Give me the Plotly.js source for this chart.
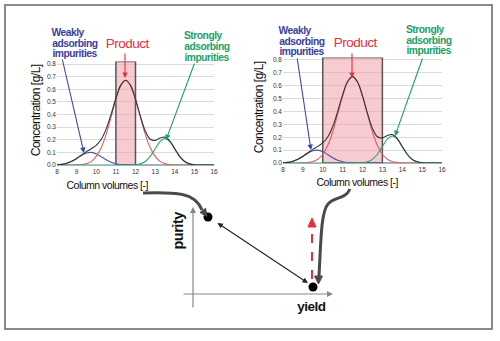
<!DOCTYPE html>
<html><head><meta charset="utf-8">
<script src="https://cdn.plot.ly/plotly-3.0.1.min.js"></script>
<style>html,body{margin:0;padding:0;background:#fff}#c{width:500px;height:341px}#c svg text.annotation-text{letter-spacing:-0.5px}</style>
</head><body><div id="c"></div>
<script>
// ---- data ----
const columnVolumes = [8,8.25,8.5,8.75,9,9.25,9.5,9.75,10,10.25,10.5,10.75,11,11.25,11.5,11.75,12,12.25,12.5,12.75,13,13.25,13.5,13.75,14,14.25,14.5,14.75,15,15.25,15.5,15.75,16];
const weakImpurity = [0.002,0.005,0.014,0.029,0.051,0.076,0.095,0.1,0.088,0.066,0.041,0.022,0.01,0.004,0.001,0,0,0,0,0,0,0,0,0,0,0,0,0,0,0,0,0,0];
const product = [0,0,0,0,0.001,0.004,0.011,0.029,0.068,0.136,0.241,0.377,0.519,0.629,0.67,0.629,0.519,0.377,0.241,0.136,0.068,0.029,0.011,0.004,0.001,0,0,0,0,0,0,0,0];
const strongImpurity = [0,0,0,0,0,0,0,0,0,0,0,0,0,0,0,0,0.002,0.009,0.028,0.068,0.127,0.185,0.21,0.185,0.127,0.068,0.028,0.009,0.002,0,0,0,0];
const total = [0.002,0.005,0.014,0.029,0.052,0.08,0.106,0.129,0.156,0.202,0.282,0.399,0.529,0.633,0.671,0.629,0.521,0.386,0.269,0.204,0.195,0.214,0.221,0.189,0.128,0.068,0.028,0.009,0.002,0,0,0,0];
const xTicks = [8,9,10,11,12,13,14,15,16];
const yTicks = [0,0.1,0.2,0.3,0.4,0.5,0.6,0.7,0.8];
const cutLeft = [11,12];   // narrow product pool
const cutRight = [10,13];  // wide product pool
const yieldVals = [0.107, 0.857];
const purityVals = [0.885, 0.08];

// ---- helpers ----
const W=500,H=341;
const px=x=>x/W, py=y=>1-y/H;
function pathPx(parts){
  let out='',isX=true;
  for(const p of parts){
    if(typeof p==='string'){out+=p+' ';isX=true;}
    else{out+=(isX?px(p):py(p)).toFixed(5)+(isX?',':' ');isX=!isX;}
  }
  return out.trim();
}
const FONT='"Liberation Sans",Arial,sans-serif';
const cBlue='#3b3f98', cRed='#e2303e', cGreen='#1f9e68';

function curves(xa,ya){
  const mk=(y,c,w)=>({x:columnVolumes,y:y,xaxis:xa,yaxis:ya,mode:'lines',line:{color:c,width:w,shape:'spline'},hoverinfo:'skip'});
  return [mk(weakImpurity,'#4a55a8',1.1),mk(product,'#e06066',1.1),mk(strongImpurity,'#2aa574',1.1),mk(total,'#333',1.1)];
}
const traces=[...curves('x','y'),...curves('x2','y2'),
  {x:yieldVals,y:purityVals,xaxis:'x3',yaxis:'y3',mode:'markers',marker:{color:'#000',size:9},hoverinfo:'skip'}];

function xax(dom,anchor){return {domain:dom,anchor:anchor,range:[8,16],tickvals:xTicks,ticks:'',showgrid:false,zeroline:false,
  showline:true,linecolor:'#9fb8b0',linewidth:1,tickfont:{family:FONT,size:6.5,color:'#333'},fixedrange:true};}
function yax(dom,anchor){return {domain:dom,anchor:anchor,range:[0,0.82],tickvals:yTicks,tickformat:'.1f',ticks:'',showgrid:true,
  gridcolor:'#dadada',gridwidth:1,zeroline:false,showline:false,tickfont:{family:FONT,size:6.5,color:'#333'},fixedrange:true};}

const layout={width:W,height:H,margin:{l:0,r:0,t:0,b:0},paper_bgcolor:'#fff',plot_bgcolor:'rgba(0,0,0,0)',showlegend:false,
  xaxis:xax([px(57),px(214)],'y'),
  yaxis:yax([py(165),py(61.5)],'x'),
  xaxis2:xax([px(283),px(442)],'y2'),
  yaxis2:yax([py(163),py(57.4)],'x2'),
  xaxis3:{domain:[px(193),px(333)],anchor:'y3',range:[0,1],visible:false,fixedrange:true},
  yaxis3:{domain:[py(294),py(207)],anchor:'x3',range:[0,1],visible:false,fixedrange:true},
  shapes:[],annotations:[]};

const S=layout.shapes, A=layout.annotations;
// outer frame
S.push({type:'rect',xref:'paper',yref:'paper',x0:px(5),x1:px(492),y0:py(329),y1:py(5),line:{color:'#8a8a8a',width:2}});
// product pool boxes
S.push({type:'rect',xref:'x',yref:'y',x0:cutLeft[0],x1:cutLeft[1],y0:0,y1:0.82,layer:'between',fillcolor:'rgba(240,160,170,0.55)',line:{color:'#555',width:1.5}});
S.push({type:'rect',xref:'x2',yref:'y2',x0:cutRight[0],x1:cutRight[1],y0:0,y1:0.82,layer:'between',fillcolor:'rgba(240,160,170,0.55)',line:{color:'#555',width:1.5}});
// gray connector curves
S.push({type:'path',xref:'paper',yref:'paper',path:pathPx(['M',143,193,'C',175,192,195,192,202,210]),line:{color:'#4a4a4a',width:3}});
S.push({type:'path',xref:'paper',yref:'paper',path:pathPx(['M',200,212.5,'L',207,216.5,'L',205.6,208.3,'Z']),fillcolor:'#4a4a4a',line:{color:'#4a4a4a',width:1}});
S.push({type:'path',xref:'paper',yref:'paper',path:pathPx(['M',350,189,'C',345,200,335,196,328,204,'C',321,212,321,240,319,276]),line:{color:'#4a4a4a',width:3}});
S.push({type:'path',xref:'paper',yref:'paper',path:pathPx(['M',314.5,276,'L',318.5,284,'L',322.5,276,'Z']),fillcolor:'#4a4a4a',line:{color:'#4a4a4a',width:1}});
// red dashed arrow
S.push({type:'line',xref:'paper',yref:'paper',x0:px(312),x1:px(312),y0:py(279),y1:py(227),line:{color:'#e2303e',width:2,dash:'dash'}});
S.push({type:'path',xref:'paper',yref:'paper',path:pathPx(['M',308,227,'L',312,218,'L',316,227,'Z']),fillcolor:'#e2303e',line:{color:'#e2303e',width:1}});

// text helpers
function txt(t,x,y,opts){A.push(Object.assign({text:t,xref:'paper',yref:'paper',x:px(x),y:py(y),showarrow:false,xanchor:'left',yanchor:'middle',borderpad:0,
  font:{family:FONT,size:11,color:'#000'}},opts||{}));}
function arr(tipX,tipY,tailX,tailY,color){A.push({text:'',xref:'paper',yref:'paper',x:px(tipX),y:py(tipY),ax:tailX-tipX,ay:tailY-tipY,
  showarrow:true,arrowhead:2,arrowsize:1,arrowwidth:1.1,arrowcolor:color});}

const lblFont=c=>({family:FONT,size:10.3,color:c,weight:'bold'});
// left chart labels
['Weakly','adsorbing','impurities'].forEach((t,i)=>txt(t,49,32+i*11,{font:lblFont(cBlue)}));
['Strongly','adsorbing','impurities'].forEach((t,i)=>txt(t,181,35+i*11.5,{font:lblFont(cGreen)}));
txt('Product',127,43,{xanchor:'center',font:{family:FONT,size:13.5,color:cRed}});
arr(84,153,62,58,'#3b48a0'); arr(125,78,125,52,cRed); arr(166,140,195,62,cGreen);
txt('Concentration [g/L]',36,111,{xanchor:'center',textangle:-90,font:{family:FONT,size:12,color:'#111'}});
txt('Column volumes [-]',107,185,{xanchor:'center',font:{family:FONT,size:10.5,color:'#111'}});
// right chart labels
['Weakly','adsorbing','impurities'].forEach((t,i)=>txt(t,276,30+i*11,{font:lblFont(cBlue)}));
['Strongly','adsorbing','impurities'].forEach((t,i)=>txt(t,403,29+i*11,{font:lblFont(cGreen)}));
txt('Product',355,42,{xanchor:'center',font:{family:FONT,size:13.5,color:cRed}});
arr(311,150,297,57,'#3b48a0'); arr(352,78,352,52,cRed); arr(395,136,423,57,cGreen);
txt('Concentration [g/L]',259,108,{xanchor:'center',textangle:-90,font:{family:FONT,size:12,color:'#111'}});
txt('Column volumes [-]',357,182,{xanchor:'center',font:{family:FONT,size:10.5,color:'#111'}});

// purity / yield schematic axes
A.push({text:'',xref:'paper',yref:'paper',x:px(333),y:py(294),ax:182-333,ay:0,showarrow:true,arrowhead:2,arrowwidth:1.2,arrowcolor:'#888'});
A.push({text:'',xref:'paper',yref:'paper',x:px(193),y:py(207),ax:0,ay:309-207,showarrow:true,arrowhead:2,arrowwidth:1.2,arrowcolor:'#888'});
txt('purity',178,231,{xanchor:'center',textangle:-90,font:{family:FONT,size:14.5,color:'#111',weight:'bold'}});
txt('yield',311,306,{xanchor:'center',font:{family:FONT,size:13.5,color:'#111',weight:'bold'}});
// trade-off double arrow between the two operating points
A.push({text:'',xref:'x3',yref:'y3',axref:'x3',ayref:'y3',x:0.821,y:0.126,ax:0.164,ay:0.828,showarrow:true,arrowhead:2,startarrowhead:2,arrowside:'end+start',arrowwidth:1.1,arrowcolor:'#222'});

Plotly.newPlot('c',traces,layout,{staticPlot:true,displayModeBar:false});
</script></body></html>
